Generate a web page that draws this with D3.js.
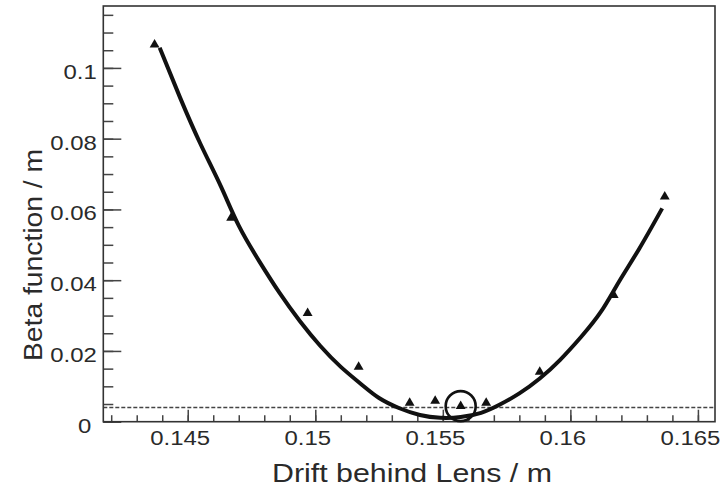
<!doctype html>
<html lang="en">
<head>
  <meta charset="utf-8">
  <title>Beta function vs drift</title>
  <script src="https://cdn.jsdelivr.net/npm/d3@7"></script>
  <style>
    body { margin: 0; background: #fff; }
    text { font-family: "Liberation Sans", Arial, sans-serif; fill: #2a2a2a; }
  </style>
</head>
<body>
<svg id="svg" width="724" height="492"></svg>
<script>
// measured points (drift / m, beta / m)
var driftPts = [0.1437, 0.1467, 0.1497, 0.1517, 0.1537, 0.1547, 0.1557, 0.1567, 0.1588, 0.1617, 0.1637];
var betaPts  = [0.1066, 0.0576, 0.0307, 0.0155, 0.0053, 0.0059, 0.0044, 0.0053, 0.0141, 0.0358, 0.0636];
var markedPt = 6;   // circled point

// fitted curve
var fitDrift = [0.1439, 0.1447, 0.1455, 0.1463, 0.1470, 0.1478, 0.1486, 0.1494, 0.1502, 0.1510, 0.1518, 0.1525, 0.1533,
                0.1541, 0.1549, 0.1557, 0.1565, 0.1572, 0.1580, 0.1588, 0.1596, 0.1604, 0.1612, 0.1619, 0.1627, 0.1636];
var fitBeta  = [0.1057, 0.0916, 0.0785, 0.0665, 0.0554, 0.0454, 0.0364, 0.0284, 0.0214, 0.0155, 0.0106, 0.0067, 0.0038,
                0.0019, 0.0011, 0.0013, 0.0025, 0.0047, 0.0080, 0.0122, 0.0175, 0.0238, 0.0311, 0.0395, 0.0489, 0.0603];

var limitBeta = 0.004;   // dashed level

var xTicks = [0.145, 0.15, 0.155, 0.16, 0.165];
var yTicks = [0, 0.02, 0.04, 0.06, 0.08, 0.1];

var margin = {top: 6, right: 9, bottom: 70.3, left: 103.3};
var W = 724, H = 492;
var w = W - margin.left - margin.right, h = H - margin.top - margin.bottom;

var svg = d3.select('#svg');
var g = svg.append('g').attr('transform', 'translate(' + margin.left + ',' + margin.top + ')');

var x = d3.scaleLinear().domain([0.14169, 0.16567]).range([0, w]);
var y = d3.scaleLinear().domain([0, 0.1175]).range([h, 0]);

var stretch = 1.14;

// minor ticks
var xMinor = d3.range(142, 166).map(function(d) { return d / 1000; });
var yMinor = d3.range(0, 24).map(function(d) { return d * 0.005; });

g.append('g')
  .attr('transform', 'translate(0,' + h + ')')
  .call(d3.axisBottom(x).tickValues(xMinor).tickSizeInner(-6.5).tickSizeOuter(0).tickFormat(''))
  .call(function(a) { a.select('.domain').remove(); });
g.append('g')
  .call(d3.axisLeft(y).tickValues(yMinor).tickSizeInner(-10).tickSizeOuter(0).tickFormat(''))
  .call(function(a) { a.select('.domain').remove(); });

var xAxis = g.append('g')
  .attr('transform', 'translate(0,' + h + ')')
  .call(d3.axisBottom(x).tickValues(xTicks).tickSizeInner(-12).tickSizeOuter(0).tickFormat(d3.format('')));
xAxis.select('.domain').remove();
xAxis.selectAll('text')
  .attr('font-size', 21).attr('y', null).attr('dy', null)
  .attr('transform', 'translate(-8,23.3) scale(' + stretch + ',1)');

var yAxis = g.append('g')
  .call(d3.axisLeft(y).tickValues(yTicks).tickSizeInner(-18).tickSizeOuter(0).tickFormat(d3.format('')));
yAxis.select('.domain').remove();
yAxis.selectAll('text')
  .attr('font-size', 21).attr('x', null).attr('dy', null)
  .attr('transform', function(d) { return 'translate(' + (d === 0 ? -12 : -6.5) + ',10.5) scale(' + stretch + ',1)'; });

g.selectAll('.tick line').attr('stroke', '#444').attr('stroke-width', 1.5);

// dashed level
g.append('line')
  .attr('x1', 0).attr('x2', w)
  .attr('y1', y(limitBeta)).attr('y2', y(limitBeta))
  .attr('stroke', '#444').attr('stroke-width', 1.5).attr('stroke-dasharray', '4,2');

// frame
g.append('rect')
  .attr('width', w).attr('height', h)
  .attr('fill', 'none').attr('stroke', '#333').attr('stroke-width', 1.6);

// fit curve
var line = d3.line()
  .x(function(d, i) { return x(fitDrift[i]); })
  .y(function(d, i) { return y(fitBeta[i]); })
  .curve(d3.curveNatural);
g.append('path')
  .attr('d', line(fitDrift))
  .attr('fill', 'none').attr('stroke', '#111').attr('stroke-width', 4);

// points
g.selectAll('.pt')
  .data(driftPts)
  .enter().append('path')
  .attr('class', 'pt')
  .attr('d', d3.symbol().type(d3.symbolTriangle).size(42))
  .attr('transform', function(d, i) { return 'translate(' + x(d) + ',' + y(betaPts[i]) + ')'; })
  .attr('fill', '#111');

g.append('circle')
  .attr('cx', x(driftPts[markedPt])).attr('cy', y(betaPts[markedPt]))
  .attr('r', 15)
  .attr('fill', 'none').attr('stroke', '#111').attr('stroke-width', 2.6);

// axis titles
svg.append('text')
  .attr('x', 412).attr('y', 482)
  .attr('text-anchor', 'middle').attr('font-size', 25)
  .attr('textLength', 280).attr('lengthAdjust', 'spacingAndGlyphs')
  .text('Drift behind Lens / m');

svg.append('text')
  .attr('transform', 'translate(42,255) rotate(-90)')
  .attr('text-anchor', 'middle').attr('font-size', 25)
  .attr('textLength', 212).attr('lengthAdjust', 'spacingAndGlyphs')
  .text('Beta function / m');
</script>
</body>
</html>
